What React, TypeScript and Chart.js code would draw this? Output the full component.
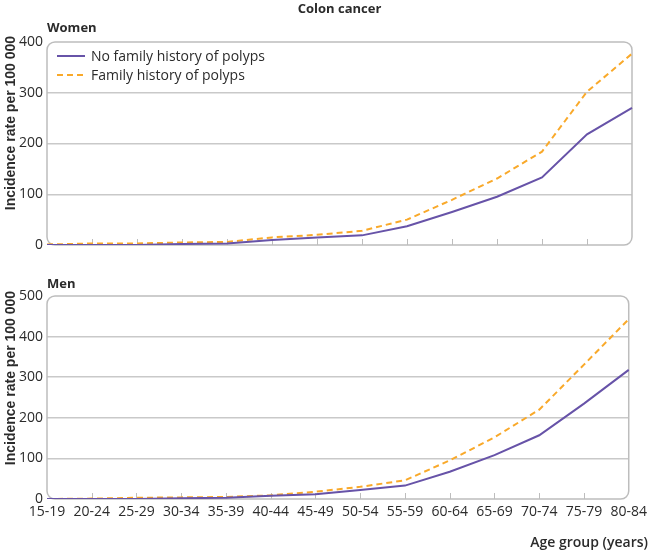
import React, { useEffect, useRef } from "react";
import { Chart, registerables } from "chart.js";
Chart.register(...registerables);

const ageGroups = ["15-19", "20-24", "25-29", "30-34", "35-39", "40-44", "45-49", "50-54", "55-59", "60-64", "65-69", "70-74", "75-79", "80-84"];
const womenNoHistory = [0, 0, 0, 2, 3, 10, 15, 19, 37, 65, 95, 133, 218, 270];
const womenHistory = [1, 3, 3, 5, 6, 15, 20, 28, 50, 89, 131, 184, 302, 377];
const menNoHistory = [0, 0, 0, 2, 3, 8, 12, 22, 33, 67, 108, 157, 235, 318];
const menHistory = [0, 1, 3, 4, 5, 9, 18, 30, 46, 95, 152, 220, 331, 443];
const womenAxis = { min: 0, max: 400, step: 100 };
const menAxis = { min: 0, max: 500, step: 100 };
const seriesLabels = ["No family history of polyps", "Family history of polyps"];

const PURPLE = "#6753a8";
const ORANGE = "#f9a92a";
const GRID = "#c9c9c9";
const FONT = "'Open Sans', Roboto, Arial, sans-serif";
const BOLD_FONT = "'Open Sans', Arial, sans-serif";
const TEXT = "#2b2b2b";

const boxPlugin = {
  id: "roundBox",
  beforeDatasetsDraw(chart: any) {
    const { ctx, chartArea } = chart;
    const { left, right, top, bottom } = chartArea;
    ctx.save();
    ctx.strokeStyle = "#bdbdbd";
    ctx.lineWidth = 1.5;
    ctx.beginPath();
    (ctx as any).roundRect(left, top, right - left, bottom - top, 8);
    ctx.stroke();
    const xs = chart.scales.x;
    ctx.lineWidth = 1;
    for (let i = 1; i < ageGroups.length - 1; i++) {
      const px = Math.round(xs.getPixelForValue(i)) + 0.5;
      ctx.beginPath();
      ctx.moveTo(px, bottom);
      ctx.lineTo(px, bottom - 6);
      ctx.stroke();
    }
    ctx.restore();
  },
};

function makeConfig(noHist: number[], hist: number[], axis: any, showX: boolean, padTop: number, xHeight: number) {
  return {
    type: "line",
    data: {
      labels: ageGroups,
      datasets: [
        {
          label: seriesLabels[0],
          data: noHist,
          borderColor: PURPLE,
          borderWidth: 2,
          pointRadius: 0,
          tension: 0,
          fill: false,
        },
        {
          label: seriesLabels[1],
          data: hist,
          borderColor: ORANGE,
          borderWidth: 2,
          borderDash: [6, 4],
          pointRadius: 0,
          tension: 0,
          fill: false,
        },
      ],
    },
    options: {
      animation: false,
      responsive: false,
      maintainAspectRatio: false,
      layout: { padding: { top: padTop, right: 20, left: 0, bottom: 0 } },
      plugins: { legend: { display: false }, tooltip: { enabled: false }, title: { display: false } },
      scales: {
        x: {
          display: true,
          grid: { display: false, drawTicks: false },
          border: { display: false },
          ticks: {
            display: showX,
            autoSkip: false,
            maxRotation: 0,
            padding: 5,
            color: TEXT,
            font: { family: FONT, size: 14 },
          },
          afterFit(scale: any) {
            scale.height = xHeight;
          },
        },
        y: {
          min: axis.min,
          max: axis.max,
          grid: {
            drawTicks: false,
            lineWidth: 1.5,
            color: (c: any) => (c.tick && (c.tick.value === axis.min || c.tick.value === axis.max) ? "rgba(0,0,0,0)" : GRID),
          },
          border: { display: false },
          ticks: {
            stepSize: axis.step,
            padding: 4,
            color: TEXT,
            font: { family: FONT, size: 14 },
          },
          afterFit(scale: any) {
            scale.width = 47;
          },
        },
      },
    },
    plugins: [boxPlugin],
  };
}

function Panel({ cfg, width, height }: { cfg: any; width: number; height: number }) {
  const ref = useRef<HTMLCanvasElement>(null);
  useEffect(() => {
    const chart = new Chart(ref.current as HTMLCanvasElement, cfg);
    return () => chart.destroy();
  }, []);
  return <canvas ref={ref} width={width} height={height} style={{ display: "block", width, height }} />;
}

function YTitle({ cy }: { cy: number }) {
  const W = 260;
  return (
    <div
      style={{
        position: "absolute",
        left: 10 - W / 2,
        top: cy - 9,
        width: W,
        height: 18,
        lineHeight: "18px",
        textAlign: "center",
        transform: "rotate(-90deg)",
        fontFamily: "'Liberation Sans', Arial, sans-serif",
        fontWeight: "bold",
        fontSize: 14,
        color: TEXT,
        whiteSpace: "nowrap",
      }}
    >
      Incidence rate per 100 000
    </div>
  );
}

export default function App() {
  const womenCfg = makeConfig(womenNoHistory, womenHistory, womenAxis, false, 42, 15);
  const menCfg = makeConfig(menNoHistory, menHistory, menAxis, true, 36, 55);
  const labelStyle: any = { position: "absolute", fontFamily: BOLD_FONT, fontWeight: "bold", fontSize: 13, color: TEXT, whiteSpace: "nowrap", lineHeight: "18px" };
  return (
    <div style={{ position: "fixed", left: 0, top: 0, width: 652, height: 554, background: "#fff", overflow: "hidden" }}>
      <div style={{ position: "absolute", left: 0, top: 0 }}>
        <Panel cfg={womenCfg} width={652} height={260} />
      </div>
      <div style={{ position: "absolute", left: 0, top: 260 }}>
        <Panel cfg={menCfg} width={652} height={294} />
      </div>
      <div style={{ ...labelStyle, left: 47, width: 585, textAlign: "center", top: -1 }}>Colon cancer</div>
      <div style={{ ...labelStyle, left: 47, top: 18 }}>Women</div>
      <div style={{ ...labelStyle, left: 47, top: 274 }}>Men</div>
      <YTitle cy={123} />
      <YTitle cy={378} />
      <div style={{ position: "absolute", right: 4, top: 531, fontFamily: FONT, fontWeight: 600, fontSize: 14, lineHeight: "22px", color: TEXT, whiteSpace: "nowrap" }}>
        Age group (years)
      </div>
      <div style={{ position: "absolute", left: 57, top: 46, fontFamily: FONT, fontSize: 14, color: TEXT, lineHeight: "19px" }}>
        {[0, 1].map((i) => (
          <div key={i} style={{ display: "flex", alignItems: "center", height: 19 }}>
            <svg width={28} height={6} style={{ marginRight: 6 }}>
              <line
                x1={0}
                y1={3}
                x2={28}
                y2={3}
                stroke={i === 0 ? PURPLE : ORANGE}
                strokeWidth={2}
                strokeDasharray={i === 0 ? undefined : "6 4"}
              />
            </svg>
            <span style={{ whiteSpace: "nowrap" }}>{seriesLabels[i]}</span>
          </div>
        ))}
      </div>
    </div>
  );
}
